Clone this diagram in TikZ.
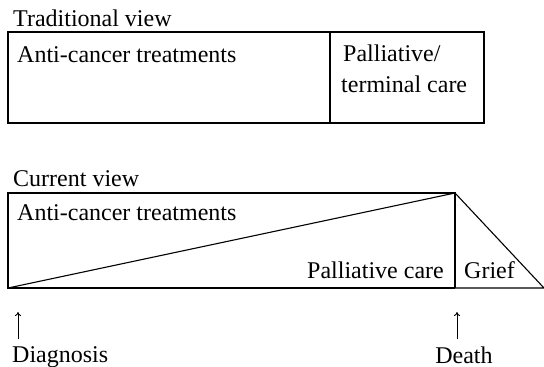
\documentclass[tikz,border=0pt]{standalone}
\usepackage{fontspec}
\setmainfont{Liberation Serif}
\usetikzlibrary{arrows.meta}
\begin{document}
\begin{tikzpicture}[x=1pt,y=-1pt,
  lbl/.style={inner sep=0pt,anchor=base west,font=\fontsize{24}{28}\selectfont},
  lblc/.style={inner sep=0pt,anchor=base,font=\fontsize{24}{28}\selectfont},
  frame/.style={line width=1.1pt,line join=miter},
  tick/.style={line width=0.9pt,-{To[length=4pt,width=6pt]}}]
\useasboundingbox (0,0) rectangle (544,367);
% Traditional view
\node[lbl] (tv) at (13,26) {Traditional view};
\coordinate (t1) at (8,32);
\coordinate (t2) at (484,123);
\draw[frame] (t1) rectangle (t2);
\draw[frame] (330,32) -- (330,123);
\node[lbl] (ta) at (17,62) {Anti-cancer treatments};
\node[lbl] (tp) at (343,61) {Palliative/};
\node[lbl] (tt) at (341,92) {terminal care};
% Current view
\node[lbl] (cv) at (13,186) {Current view};
\coordinate (bl) at (8,288);
\coordinate (tl) at (8,193);
\coordinate (tr) at (455,193);
\coordinate (br) at (455,288);
\coordinate (end) at (544,288);
\draw[frame] (br) -- (bl) -- (tl) -- (tr) -- (br);
\draw[frame] (bl) -- (tr);
\draw[frame] (tr) -- (end) -- (br);
\node[lbl] (ca) at (17,220) {Anti-cancer treatments};
\node[lbl] (cp) at (307,278) {Palliative care};
\node[lbl] (cg) at (464,278) {Grief};
% Markers
\node[lbl] (dg) at (12,362) {Diagnosis};
\node[lblc] (dt) at (464,363) {Death};
\coordinate (a1b) at (18,339);
\coordinate (a1t) at (18,312);
\coordinate (a2b) at (457,339);
\coordinate (a2t) at (457,312);
\draw[tick] (a1b) -- (a1t);
\draw[tick] (a2b) -- (a2t);
\end{tikzpicture}
\end{document}
